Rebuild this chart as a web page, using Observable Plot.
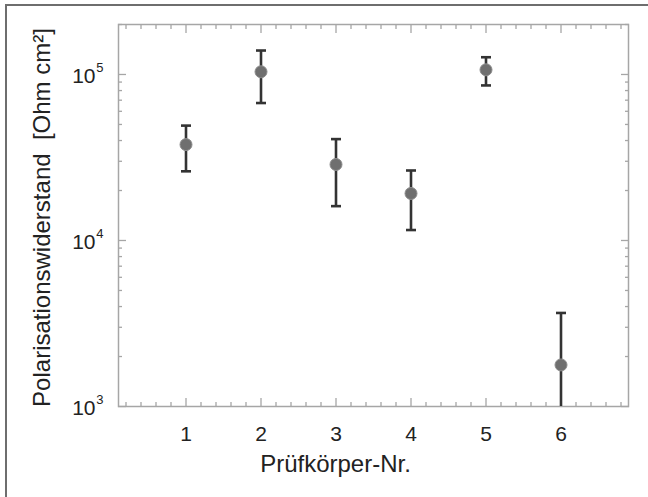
<!DOCTYPE html>
<html>
<head>
<meta charset="utf-8">
<script src="https://cdn.jsdelivr.net/npm/d3@7"></script>
<script src="https://cdn.jsdelivr.net/npm/@observablehq/plot@0.6"></script>
<style>
  html, body { margin: 0; padding: 0; background: #fff; }
  #wrap { position: relative; width: 648px; height: 497px; }
  #wrap svg { position: absolute; left: 0; top: 0; }
  #border { position: absolute; left: 5px; top: 4px; width: 660px; height: 520px;
            border-left: 2px solid #6e6e6e; border-top: 2px solid #6e6e6e; }
</style>
</head>
<body>
<div id="wrap"><div id="border"></div></div>
<script>
// Data
const specimens = [1, 2, 3, 4, 5, 6];
const resistance = [37800, 103800, 28700, 19200, 106700, 1780];
const upper = [49200, 139400, 40800, 26400, 127000, 3660];
const lower = [26100, 67300, 16100, 11560, 85900, 900];

const xMajorTicks = [1, 2, 3, 4, 5, 6];
const xMinorTicks = d3.range(1, 35).map(i => +(i * 0.2).toFixed(1)).filter(v => !Number.isInteger(v));
const yDecades = [1e3, 1e4, 1e5];
const yExponents = ["3", "4", "5"];
const yMinorTicks = [1e3, 1e4, 1e5].flatMap(d => [2,3,4,5,6,7,8,9].map(m => m * d)).filter(v => v <= 2e5);

const xTitle = "Prüfkörper-Nr.";
const yTitle = "Polarisationswiderstand  [Ohm cm²]";

const data = specimens.map((s, i) => ({x: s, y: resistance[i], hi: upper[i], lo: lower[i]}));
const decades = yDecades.map((v, i) => ({v, e: yExponents[i]}));

const cap = { draw(ctx) { ctx.moveTo(-5, 0); ctx.lineTo(5, 0); } };

const axisGrey = "#a6a6a6";
const font = "Liberation Sans, Arial, sans-serif";

const chart = Plot.plot({
  width: 648,
  height: 497,
  marginLeft: 118,
  marginRight: 20,
  marginTop: 24,
  marginBottom: 91,
  style: { fontFamily: font, background: "transparent", color: "#222" },
  x: { domain: [0.1, 6.9] },
  y: { type: "log", domain: [1e3, 2e5] },
  marks: [
    Plot.frame({ stroke: axisGrey, strokeWidth: 1.5 }),
    // inward ticks, bottom/top
    Plot.axisX(xMajorTicks, { anchor: "bottom", tickSize: 8, dy: -8, text: null, stroke: axisGrey, strokeWidth: 1.3, label: null }),
    Plot.axisX(xMinorTicks, { anchor: "bottom", tickSize: 4, dy: -4, text: null, stroke: axisGrey, strokeWidth: 1.3, label: null }),
    Plot.axisX(xMajorTicks, { anchor: "top", tickSize: 8, dy: 8, text: null, stroke: axisGrey, strokeWidth: 1.3, label: null }),
    Plot.axisX(xMinorTicks, { anchor: "top", tickSize: 4, dy: 4, text: null, stroke: axisGrey, strokeWidth: 1.3, label: null }),
    Plot.axisX(xMajorTicks, { anchor: "bottom", tickSize: 0, tickPadding: 20, fontSize: 21, fill: "#222", label: null, tickFormat: d => String(d) }),
    // inward ticks, left/right
    Plot.axisY(yDecades, { anchor: "left", tickSize: 8, dx: 8, text: null, stroke: axisGrey, strokeWidth: 1.3, label: null }),
    Plot.axisY(yMinorTicks, { anchor: "left", tickSize: 4, dx: 4, text: null, stroke: axisGrey, strokeWidth: 1.3, label: null }),
    Plot.axisY(yDecades, { anchor: "right", tickSize: 8, dx: -8, text: null, stroke: axisGrey, strokeWidth: 1.3, label: null }),
    Plot.axisY(yMinorTicks, { anchor: "right", tickSize: 4, dx: -4, text: null, stroke: axisGrey, strokeWidth: 1.3, label: null }),
    // y tick labels 10^n
    Plot.text(decades, { y: "v", text: () => "10", frameAnchor: "left", dx: -23, dy: 2, textAnchor: "end", fontSize: 21, fill: "#222" }),
    Plot.text(decades, { y: "v", text: "e", frameAnchor: "left", dx: -15, dy: -7, textAnchor: "end", fontSize: 13, fill: "#222" }),
    // titles
    Plot.text([yTitle], { frameAnchor: "left", dx: -76, dy: 2, rotate: -90, textAnchor: "middle", fontSize: 24, fill: "#222" }),
    Plot.text([xTitle], { frameAnchor: "bottom", dx: -38, dy: 65, textAnchor: "middle", fontSize: 24, fill: "#222" }),
    // error bars
    Plot.ruleX(data, { x: "x", y1: "lo", y2: "hi", stroke: "#333", strokeWidth: 2.6, clip: true }),
    Plot.dot(data, { x: "x", y: "hi", symbol: cap, stroke: "#333", strokeWidth: 2.6, clip: true }),
    Plot.dot(data, { x: "x", y: "lo", symbol: cap, stroke: "#333", strokeWidth: 2.6, clip: true }),
    Plot.dot(data, { x: "x", y: "y", r: 6, fill: "#6f6f6f", stroke: "#8c8c8c", strokeWidth: 1 })
  ]
});
document.getElementById("wrap").prepend(chart);
</script>
</body>
</html>
